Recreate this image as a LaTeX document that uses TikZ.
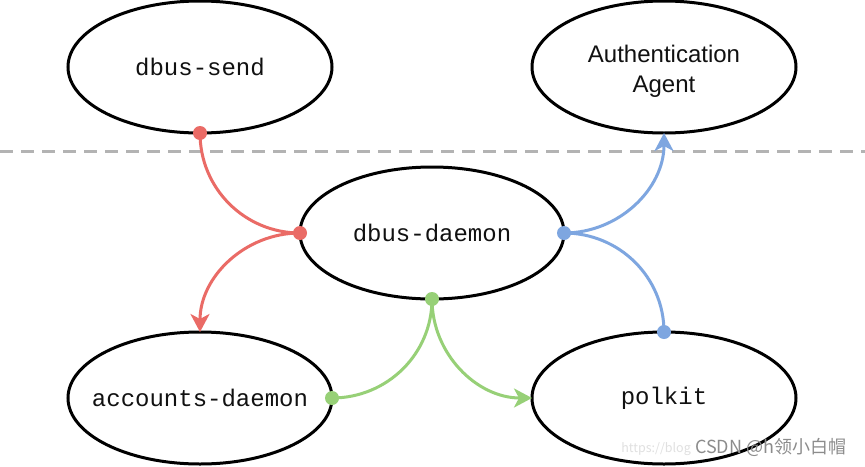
\documentclass[tikz,border=0pt]{standalone}
\usepackage{fontspec}
\setmainfont{Liberation Sans}
\setsansfont{Liberation Sans}
\setmonofont{Liberation Mono}
\newfontfamily\cjkfont{Noto Sans CJK SC}
\usetikzlibrary{shapes.geometric,arrows.meta}
\definecolor{cred}{HTML}{EA6B66}
\definecolor{cblue}{HTML}{7EA6E0}
\definecolor{cgreen}{HTML}{97D077}
\definecolor{cdash}{HTML}{B3B3B3}
\definecolor{ctext}{HTML}{111111}
\tikzset{
  proc/.style={ellipse, draw=black, line width=3pt, minimum width=264pt, minimum height=132pt,
    inner sep=0pt, outer sep=0pt},
  monotext/.style={text=ctext, font=\fontsize{24}{30}\selectfont\ttfamily, inner sep=0pt},
  sanstext/.style={text=ctext, font=\fontsize{24}{30}\selectfont\sffamily, align=center, inner sep=0pt},
  link/.style={line width=3pt},
  headarrow/.style={arrows={-Stealth[length=18pt,width=19pt,inset=5pt]}},
  dot/.style={circle, inner sep=0pt, minimum size=14pt},
}
\begin{document}
\begin{tikzpicture}[x=1pt,y=-1pt]
\useasboundingbox (0,0) rectangle (865,466);
\fill[white] (0,0) rectangle (865,466);
\draw[cdash, line width=3pt, dash pattern=on 13pt off 8pt] (0,151) -- (865,151);

\node[proc] (ds) at (200,67) {};
\node[proc] (aa) at (664,67) {};
\node[proc] (dd) at (432,233) {};
\node[proc] (ad) at (200,398) {};
\node[proc] (pk) at (664,398) {};

\node[monotext] (tds) at (ds.center) {dbus-send};
\node[sanstext] (taa) at ([yshift=-4pt]aa.center) {Authentication\\Agent};
\node[monotext] (tdd) at (dd.center) {dbus-daemon};
\node[monotext] (tad) at (ad.center) {accounts-daemon};
\node[monotext] (tpk) at (pk.center) {polkit};

% red
\draw[link, cred] (ds.south) to[out=-90,in=180] (dd.west);
\draw[link, cred, headarrow] (dd.west) to[out=180,in=90] (ad.north);
\node[dot, fill=cred] (r1) at (ds.south) {};
\node[dot, fill=cred] (r2) at (dd.west) {};

% blue
\draw[link, cblue, headarrow] (dd.east) to[out=0,in=-90] (aa.south);
\draw[link, cblue] (pk.north) to[out=90,in=0] (dd.east);
\node[dot, fill=cblue] (b1) at (dd.east) {};
\node[dot, fill=cblue] (b2) at (pk.north) {};

% green
\draw[link, cgreen] (dd.south) to[out=-90,in=0] (ad.east);
\draw[link, cgreen, headarrow] (dd.south) to[out=-90,in=180] (pk.west);
\node[dot, fill=cgreen] (g1) at (dd.south) {};
\node[dot, fill=cgreen] (g2) at (ad.east) {};

% watermark
\node[anchor=east, text=black!12, font=\fontsize{12.5}{15}\selectfont\cjkfont, inner sep=0pt] (url) at (691,449) {https://blog};
\node[anchor=west, text=black!45, font=\fontsize{18}{22}\selectfont\cjkfont, inner sep=0pt] (wm) at (695,447) {CSDN @h领小白帽};
\end{tikzpicture}
\end{document}
